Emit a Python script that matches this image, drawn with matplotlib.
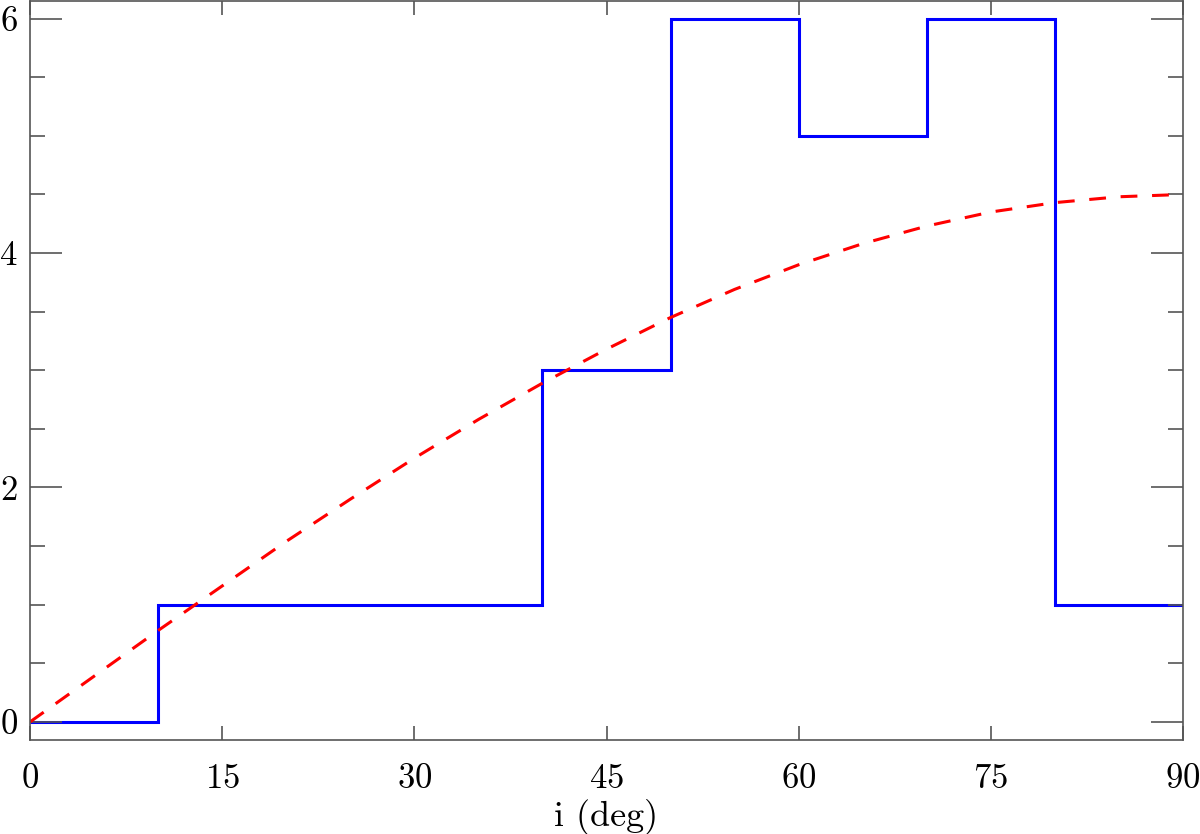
import matplotlib
matplotlib.use("Agg")
import matplotlib.pyplot as plt
from matplotlib.ticker import MultipleLocator

# histogram of inclinations (bin edges in deg, counts per bin)
bin_edges = [0, 10, 40, 50, 60, 70, 80, 90]
counts = [0, 1, 3, 6, 5, 6, 1]

# expected curve, every 5 deg
curve_i = [0, 5, 10, 15, 20, 25, 30, 35, 40, 45, 50, 55, 60, 65, 70, 75, 80, 85, 90]
curve_n = [0, 0.39, 0.78, 1.16, 1.54, 1.90, 2.25, 2.58, 2.89, 3.18, 3.45,
           3.69, 3.90, 4.08, 4.23, 4.35, 4.43, 4.48, 4.50]

x_ticks = [0, 15, 30, 45, 60, 75, 90]
y_ticks = [0, 2, 4, 6]

plt.rcParams['font.family'] = 'cmr10'
plt.rcParams['axes.formatter.use_mathtext'] = True

fig = plt.figure(figsize=(12, 8.34), dpi=100)
ax = fig.add_axes([30 / 1200, 1 - 740 / 834, 1153 / 1200, 739 / 834])

ax.stairs(counts, bin_edges, baseline=None, color='#0000ff', lw=2.2)
ax.plot(curve_i, curve_n, color='#ff0000', lw=2.2, dashes=(5.5, 4.8))

ax.set_xlim(0, 90)
ax.set_ylim(-0.154, 6.15)
ax.set_xticks(x_ticks)
ax.set_yticks(y_ticks)
ax.yaxis.set_minor_locator(MultipleLocator(0.5))

gray = '#555555'
for s in ax.spines.values():
    s.set_color(gray)
    s.set_linewidth(1.2)
ax.tick_params(which='both', direction='in', top=True, right=True, colors=gray,
               labelcolor='black', labelsize=25, width=1.2)
ax.tick_params(axis='x', which='major', length=10, pad=17)
ax.tick_params(axis='y', which='major', length=23, pad=9)
ax.tick_params(axis='y', which='minor', length=11)

ax.set_xlabel('i (deg)', fontsize=26, labelpad=3)

fig.savefig('out.png', dpi=100)
